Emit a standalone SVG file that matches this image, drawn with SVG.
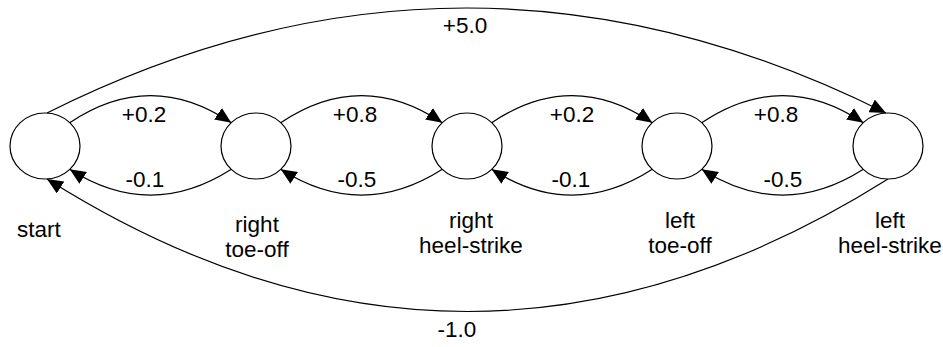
<svg xmlns="http://www.w3.org/2000/svg" width="943" height="347" viewBox="0 0 943 347">
<style>
.node{fill:#fff;stroke:#000;stroke-width:1.2}
.edge{fill:none;stroke:#000;stroke-width:1.2;marker-end:url(#ah)}
text{font-family:"Liberation Sans",Arial,sans-serif;font-size:22.5px;fill:#000;text-anchor:middle}
</style>
<defs>
<marker id="ah" markerUnits="userSpaceOnUse" markerWidth="16" markerHeight="14" refX="16" refY="7" orient="auto">
<path d="M0,0 L16,7 L0,14 z" fill="#000"/>
</marker>
</defs>
<g id="connectors">
<path class="edge" d="M69.7,122.7 Q150.5,68.5 231.3,122.7"/>
<path class="edge" d="M231.3,169.3 Q150.5,221 69.7,169.3"/>
<path class="edge" d="M280.7,122.7 Q361.5,68.5 442.3,122.7"/>
<path class="edge" d="M442.3,169.3 Q361.5,221 280.7,169.3"/>
<path class="edge" d="M491.7,122.7 Q572,68.5 652.3,122.7"/>
<path class="edge" d="M652.3,169.3 Q572,221 491.7,169.3"/>
<path class="edge" d="M701.7,122.7 Q782.5,68.5 863.3,122.7"/>
<path class="edge" d="M863.3,169.3 Q782.5,221 701.7,169.3"/>
<path class="edge" d="M47,113 Q466,-97 886,113"/>
<path class="edge" d="M888,179 Q467,444 47,179"/>
<text x="465" y="33">+5.0</text>
<text x="457" y="337">-1.0</text>
<text x="144" y="122">+0.2</text>
<text x="145" y="187">-0.1</text>
<text x="355" y="122">+0.8</text>
<text x="357" y="187">-0.5</text>
<text x="572" y="122">+0.2</text>
<text x="571" y="187">-0.1</text>
<text x="776" y="122">+0.8</text>
<text x="783" y="187">-0.5</text>
</g>
<g id="start">
<ellipse class="node" cx="45" cy="146" rx="35" ry="33"/>
<text x="39" y="237">start</text>
</g>
<g id="right-toe-off">
<ellipse class="node" cx="256" cy="146" rx="35" ry="33"/>
<text x="257" y="232">right</text>
<text x="257" y="257">toe-off</text>
</g>
<g id="right-heel-strike">
<ellipse class="node" cx="467" cy="146" rx="35" ry="33"/>
<text x="471" y="228">right</text>
<text x="471" y="253">heel-strike</text>
</g>
<g id="left-toe-off">
<ellipse class="node" cx="677" cy="146" rx="35" ry="33"/>
<text x="680" y="228">left</text>
<text x="680" y="253">toe-off</text>
</g>
<g id="left-heel-strike">
<ellipse class="node" cx="888" cy="146" rx="35" ry="33"/>
<text x="890" y="228">left</text>
<text x="890" y="253">heel-strike</text>
</g>
</svg>
